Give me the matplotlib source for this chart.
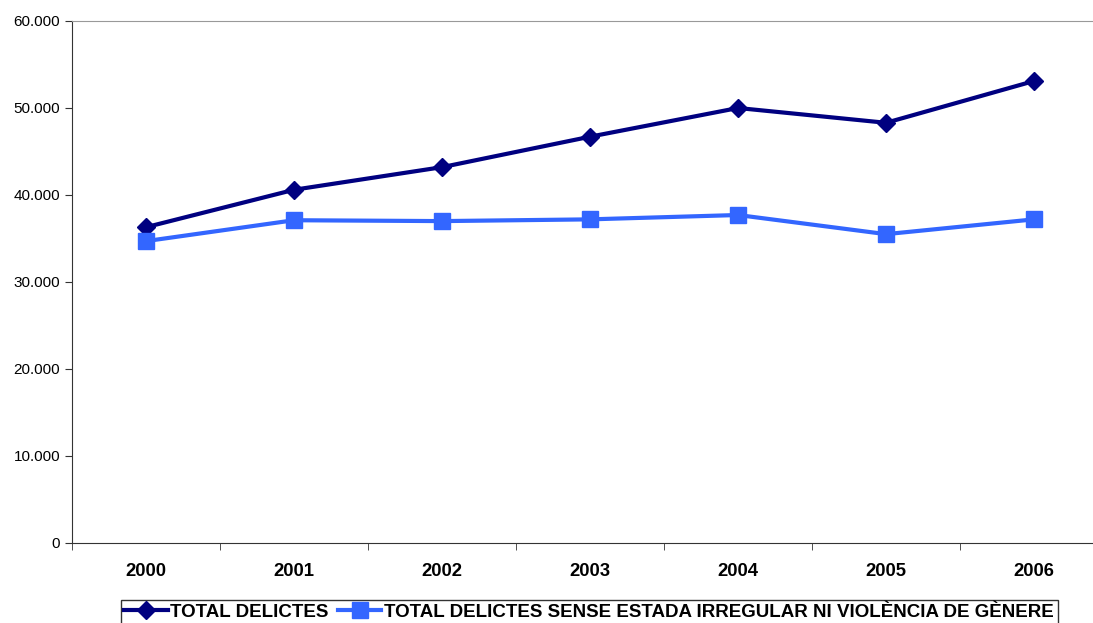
import matplotlib
matplotlib.use('Agg')
from matplotlib import pyplot as plt
from matplotlib.ticker import FuncFormatter, FixedLocator
import numpy as np

# Data
years = ['2000', '2001', '2002', '2003', '2004', '2005', '2006']
total = [36300, 40600, 43200, 46700, 50000, 48300, 53100]
total_sense = [34700, 37100, 37000, 37200, 37700, 35500, 37200]

fig = plt.figure(figsize=(10.93, 6.23), dpi=100)
ax = fig.add_axes([72 / 1093, 1 - 543 / 623, 1036 / 1093, 522 / 623])

x = np.arange(len(years))
ax.plot(x, total, color='#000080', lw=3, marker='D', markersize=9, label='TOTAL DELICTES')
ax.plot(x, total_sense, color='#3366FF', lw=3, marker='s', markersize=11,
        label='TOTAL DELICTES SENSE ESTADA IRREGULAR NI VIOLÈNCIA DE GÈNERE')

ax.set_xlim(-0.5, len(years) - 0.5)
ax.set_ylim(0, 60000)
ax.set_yticks(np.arange(0, 60001, 10000))
ax.yaxis.set_major_formatter(FuncFormatter(lambda v, p: '0' if v == 0 else f'{int(v):,}'.replace(',', '.')))
ax.set_xticks(x)
ax.set_xticklabels(years, fontweight='bold', fontsize=13.3, family='Liberation Sans')
ax.xaxis.set_minor_locator(FixedLocator(np.arange(-0.5, len(years), 1)))
ax.tick_params(axis='x', which='major', length=0, pad=14.5)
ax.tick_params(axis='x', which='minor', length=5, direction='out', color='#333333')
ax.tick_params(axis='y', length=5, labelsize=11, color='#333333')
for lbl in ax.get_yticklabels():
    lbl.set_family('Liberation Sans')

ax.spines['right'].set_visible(False)
ax.spines['top'].set_color('#999999')
ax.spines['left'].set_color('#333333')
ax.spines['bottom'].set_color('#333333')

leg = fig.legend(loc='upper center', bbox_to_anchor=(0.539, 0.037), ncol=2,
                 prop={'family': 'Liberation Sans', 'weight': 'bold', 'size': 13.5},
                 frameon=True, fancybox=False, edgecolor='black', borderpad=0.2,
                 handlelength=2.3, handletextpad=0.15, columnspacing=0.5, borderaxespad=0)
leg.get_frame().set_linewidth(1.0)

fig.savefig('out.png', dpi=100)
